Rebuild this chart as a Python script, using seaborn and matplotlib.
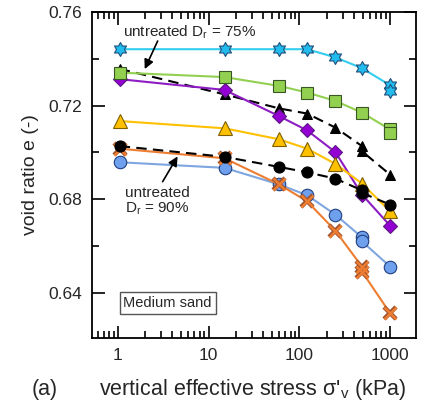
import numpy as np
import pandas as pd
import matplotlib
matplotlib.use("Agg")
import matplotlib.pyplot as plt
from matplotlib.path import Path
from matplotlib.ticker import FixedLocator, NullFormatter, LogLocator
import seaborn as sns

sns.set_style("ticks")
plt.rcParams["font.family"] = ["Liberation Sans", "DejaVu Sans"]
plt.rcParams["mathtext.fontset"] = "custom"
plt.rcParams["mathtext.rm"] = "Liberation Sans"
plt.rcParams["mathtext.it"] = "Liberation Sans:italic"

# vertical effective stress steps (kPa); repeated steps are duplicate readings
stress_a = [1.05, 15, 60, 122, 250, 490, 1000, 1000]   # cyan, green
stress_b = [1.05, 15, 60, 122, 250, 490, 490, 1000]    # dashed triangles, black circles, blue, orange
stress_c = [1.05, 15, 60, 122, 250, 490, 1000]         # purple, yellow

e_cyan = [0.7441, 0.7441, 0.7441, 0.7441, 0.7406, 0.7360, 0.7287, 0.7263]
e_green = [0.7341, 0.7322, 0.7284, 0.7256, 0.7220, 0.7170, 0.7098, 0.7081]
e_untr75 = [0.7357, 0.7248, 0.7188, 0.7166, 0.7106, 0.7027, 0.7005, 0.6905]
e_purple = [0.7313, 0.7267, 0.7155, 0.7094, 0.7001, 0.6820, 0.6687]
e_yellow = [0.7134, 0.7103, 0.7056, 0.7016, 0.6951, 0.6867, 0.6748]
e_untr90 = [0.7027, 0.6981, 0.6938, 0.6915, 0.6888, 0.6838, 0.6827, 0.6777]
e_blue = [0.6958, 0.6934, 0.6863, 0.6817, 0.6734, 0.6637, 0.6620, 0.6512]
e_orange = [0.7016, 0.6975, 0.6863, 0.6791, 0.6665, 0.6512, 0.6491, 0.6313]

# six-pointed star marker
ang = np.deg2rad(90 + 30 * np.arange(12))
rad = np.where(np.arange(12) % 2 == 0, 1.0, 1 / np.sqrt(3))
star_verts = np.column_stack([rad * np.cos(ang), rad * np.sin(ang)])
star_verts = np.vstack([star_verts, star_verts[:1]])
hexagram = Path(star_verts, closed=True)

fig = plt.figure(figsize=(4.22, 4.03), dpi=100)
ax = fig.add_axes([92 / 422, 1 - 338 / 403, (416 - 92) / 422, (338 - 12) / 403])


def draw(x, y, **kw):
    df = pd.DataFrame({"stress": x, "e": y})
    sns.lineplot(data=df, x="stress", y="e", estimator=None, sort=False, ax=ax, **kw)


draw(stress_a, e_cyan, color="#33CCEE", lw=1.5, marker=hexagram, markersize=10,
     markerfacecolor="#22BBEE", markeredgecolor="#1F4E79", markeredgewidth=0.8, zorder=3)
draw(stress_b, e_untr75, color="black", lw=1.5, linestyle=(0, (5, 3)), marker="^",
     markersize=7, markerfacecolor="black", markeredgecolor="black", zorder=3)
draw(stress_a, e_green, color="#92D050", lw=1.5, marker="s", markersize=8.5,
     markerfacecolor="#92D050", markeredgecolor="#385723", markeredgewidth=0.8, zorder=4)
draw(stress_c, e_purple, color="#8E1CC4", lw=1.5, marker="D", markersize=7,
     markerfacecolor="#9400D3", markeredgecolor="#5B1A80", markeredgewidth=0.8, zorder=3)
draw(stress_c, e_yellow, color="#FFC000", lw=1.5, marker="^", markersize=9.5,
     markerfacecolor="#FFC000", markeredgecolor="#7F6000", markeredgewidth=0.8, zorder=3)
draw(stress_b, e_blue, color="#7EA6E0", lw=1.5, marker="o", markersize=9,
     markerfacecolor="#6FA0EE", markeredgecolor="#1F3F7F", markeredgewidth=0.8, zorder=3)
draw(stress_b, e_orange, color="#ED7D31", lw=1.5, marker="x", markersize=9,
     markeredgecolor="#A0522D", markeredgewidth=3.2, zorder=4)
draw(stress_b, e_orange, color="#ED7D31", lw=0, marker="x", markersize=8,
     markeredgecolor="#ED7D31", markeredgewidth=1.8, zorder=4.1)
draw(stress_b, e_untr90, color="black", lw=1.5, linestyle=(0, (5, 3)), marker="o",
     markersize=8, markerfacecolor="black", markeredgecolor="black", zorder=5)

ax.set_xscale("log")
ax.set_xlim(0.52, 1930)
ax.set_ylim(0.6207, 0.76)
ax.xaxis.set_major_locator(FixedLocator([1, 10, 100, 1000]))
ax.xaxis.set_minor_locator(LogLocator(base=10, subs=np.arange(2, 10)))
ax.xaxis.set_minor_formatter(NullFormatter())
ax.set_xticklabels(["1", "10", "100", "1000"])
ax.yaxis.set_major_locator(FixedLocator([0.64, 0.68, 0.72, 0.76]))
ax.yaxis.set_minor_locator(FixedLocator([0.62, 0.66, 0.70, 0.74]))
ax.set_yticklabels(["0.64", "0.68", "0.72", "0.76"])

ax.tick_params(which="both", direction="in", top=True, right=True, color="black", width=1.2)
ax.tick_params(which="major", length=9, labelsize=12.5, pad=7)
ax.tick_params(which="minor", length=5)
for s in ax.spines.values():
    s.set_linewidth(1.3)
    s.set_color("black")

ax.set_xlabel("")
ax.set_ylabel("void ratio e (-)", fontsize=14, labelpad=7)
fig.text(253 / 422, 1 - 389 / 403, "vertical effective stress σ'$_\\mathrm{v}$ (kPa)",
         fontsize=15.5, ha="center", va="center")
fig.text(32 / 422, 1 - 389 / 403, "(a)", fontsize=15.5, ha="left", va="center")

arrow = dict(arrowstyle="-|>", color="black", lw=1.2, mutation_scale=14, shrinkA=0, shrinkB=0)
ax.text(6.18, 0.7514, "untreated D$_\\mathrm{r}$ = 75%", fontsize=11, ha="center", va="center")
ax.annotate("", xy=(1.98, 0.7356), xytext=(2.75, 0.7476), arrowprops=arrow)
ax.text(2.75, 0.679, "untreated\nD$_\\mathrm{r}$ = 90%", fontsize=11, ha="center", va="center",
        linespacing=1.05)
ax.annotate("", xy=(4.56, 0.6983), xytext=(3.12, 0.6875), arrowprops=arrow)
ax.text(3.54, 0.6357, "Medium sand", fontsize=10.5, ha="center", va="center",
        bbox=dict(boxstyle="square,pad=0.25", fc="white", ec="#555555", lw=1))

fig.savefig("out.png", dpi=100)
